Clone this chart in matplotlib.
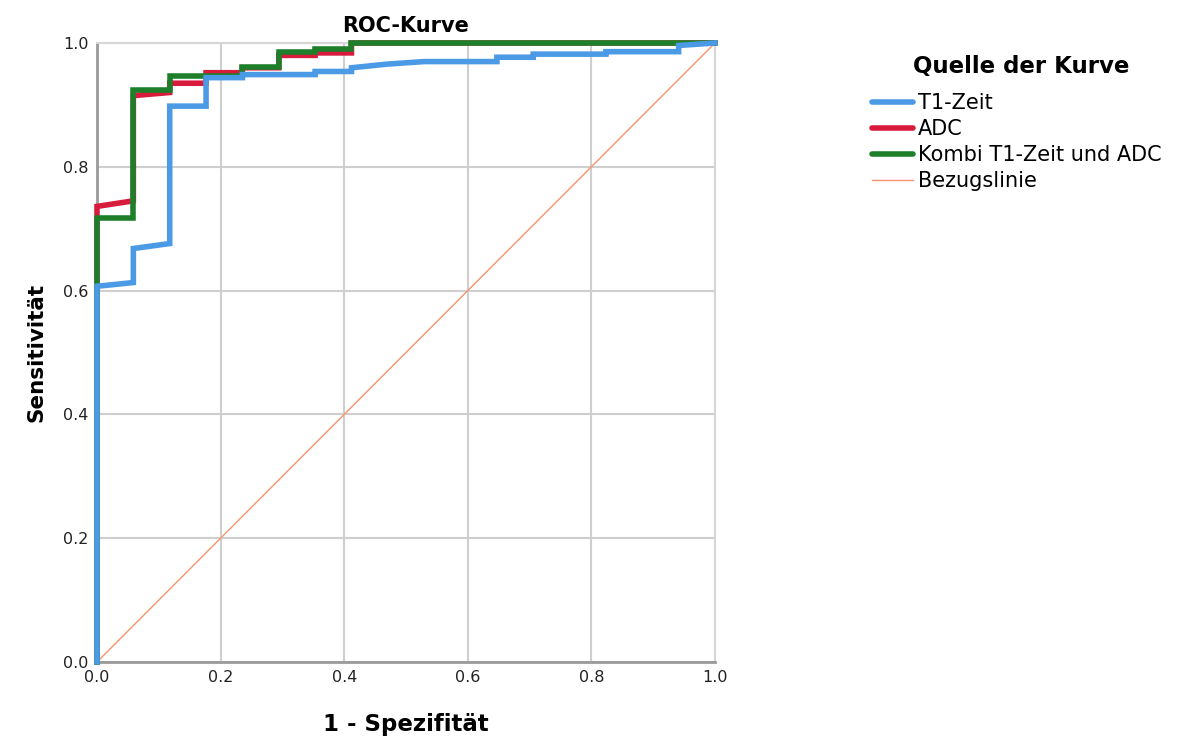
import matplotlib
matplotlib.use("Agg")
import matplotlib.pyplot as plt
from matplotlib.lines import Line2D

n = 17.0  # step unit for 1 - specificity

t1_fpr = [0, 0, 1/n, 1/n, 2/n, 2/n, 3/n, 3/n, 4/n, 4/n, 6/n, 6/n, 7/n, 7/n, 8/n, 9/n,
          11/n, 11/n, 12/n, 12/n, 14/n, 14/n, 16/n, 16/n, 1]
t1_tpr = [0, 0.607, 0.613, 0.668, 0.676, 0.898, 0.898, 0.944, 0.944, 0.949, 0.949, 0.954,
          0.954, 0.960, 0.966, 0.970, 0.970, 0.977, 0.977, 0.982, 0.982, 0.986, 0.986, 0.996, 1.0]

adc_fpr = [0, 0, 1/n, 1/n, 2/n, 2/n, 3/n, 3/n, 4/n, 4/n, 5/n, 5/n, 6/n, 6/n, 7/n, 7/n, 1]
adc_tpr = [0, 0.736, 0.745, 0.915, 0.920, 0.935, 0.935, 0.952, 0.952, 0.960, 0.960, 0.980,
           0.980, 0.984, 0.984, 1.0, 1.0]

kombi_fpr = [0, 0, 1/n, 1/n, 2/n, 2/n, 4/n, 4/n, 5/n, 5/n, 6/n, 6/n, 7/n, 7/n, 1]
kombi_tpr = [0, 0.718, 0.718, 0.924, 0.924, 0.946, 0.946, 0.962, 0.962, 0.986, 0.986, 0.990,
             0.990, 1.0, 1.0]

ref_x = [0, 1]
ref_y = [0, 1]

labels = ["T1-Zeit", "ADC", "Kombi T1-Zeit und ADC", "Bezugslinie"]
colors = ["#4A9AE6", "#D81B3C", "#1E7F2A", "#F7936B"]
ticks = [0.0, 0.2, 0.4, 0.6, 0.8, 1.0]
tick_labels = ["0.0", "0.2", "0.4", "0.6", "0.8", "1.0"]

fig = plt.figure(figsize=(11.8, 7.4), dpi=100)
ax = fig.add_axes([97/1180, 1-662/740, (715-97)/1180, (662-43)/740])

ax.set_xlim(0, 1)
ax.set_ylim(0, 1)
ax.set_xticks(ticks)
ax.set_yticks(ticks)
ax.set_xticklabels(tick_labels)
ax.set_yticklabels(tick_labels)
ax.tick_params(length=0, labelsize=11.5, pad=6, colors="#222222")
ax.grid(True, color="#cfcfcf", linewidth=1.5)
ax.set_axisbelow(True)
for s in ["top", "right"]:
    ax.spines[s].set_color("#d6d6d6")
    ax.spines[s].set_linewidth(1.5)
for s in ["left", "bottom"]:
    ax.spines[s].set_color("#9a9a9a")
    ax.spines[s].set_linewidth(2)

ax.plot(ref_x, ref_y, color=colors[3], lw=1.0, zorder=2, clip_on=False)
ax.plot(adc_fpr, adc_tpr, color=colors[1], lw=4, zorder=3, clip_on=False, solid_joinstyle="miter")
ax.plot(kombi_fpr, kombi_tpr, color=colors[2], lw=4, zorder=4, clip_on=False, solid_joinstyle="miter")
ax.plot(t1_fpr, t1_tpr, color=colors[0], lw=4, zorder=5, clip_on=False, solid_joinstyle="miter")

ax.set_title("ROC-Kurve", fontsize=15, fontweight="bold", pad=8)
ax.set_xlabel("1 - Spezifität", fontsize=16.5, fontweight="bold", labelpad=20)
ax.set_ylabel("Sensitivität", fontsize=15.5, fontweight="bold", labelpad=12)

handles = [Line2D([0], [0], color=colors[0], lw=4, solid_capstyle="round"),
           Line2D([0], [0], color=colors[1], lw=4, solid_capstyle="round"),
           Line2D([0], [0], color=colors[2], lw=4, solid_capstyle="round"),
           Line2D([0], [0], color=colors[3], lw=1.0)]
fig.text(1021/1180, 1-66/740, "Quelle der Kurve", fontsize=16.5, fontweight="bold",
         ha="center", va="center")
leg = fig.legend(handles, labels, loc="upper left", bbox_to_anchor=(872/1180, 1-93/740),
                 frameon=False, fontsize=15,
                 handlelength=1.97, handletextpad=0.24, labelspacing=0.29, borderpad=0,
                 borderaxespad=0)

fig.savefig("out.png", dpi=100)
